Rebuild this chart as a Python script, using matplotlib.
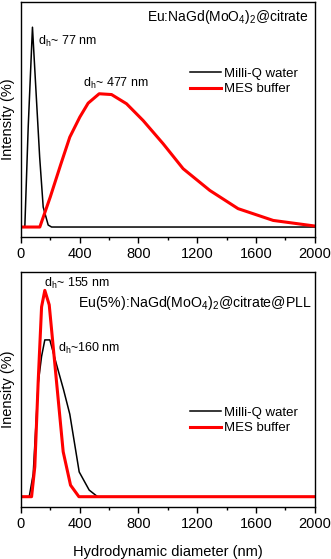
import matplotlib
matplotlib.use('Agg')
import matplotlib.pyplot as plt
from matplotlib.ticker import MultipleLocator, NullLocator

plt.rcParams['font.family'] = ['Liberation Sans', 'DejaVu Sans']
plt.rcParams['mathtext.fontset'] = 'custom'
plt.rcParams['mathtext.rm'] = 'Liberation Sans'
plt.rcParams['mathtext.it'] = 'Liberation Sans'

# top panel: Eu:NaGd(MoO4)2@citrate
top_water_x = [0, 27, 50, 79, 100, 128, 152, 186, 209, 2000]
top_water_y = [0, 0, 0.5, 1.0, 0.72, 0.35, 0.1, 0.01, 0, 0]
top_mes_x = [0, 129, 200, 270, 333, 401, 458, 533, 617, 719, 832, 968, 1104, 1286, 1478, 1717, 2000]
top_mes_y = [0, 0, 0.15, 0.31, 0.45, 0.55, 0.62, 0.667, 0.663, 0.617, 0.533, 0.417, 0.292, 0.183, 0.092, 0.033, 0.005]

# bottom panel: Eu(5%):NaGd(MoO4)2@citrate@PLL
bot_water_x = [0, 57, 84, 118, 141, 163, 197, 243, 290, 333, 397, 465, 522, 2000]
bot_water_y = [0, 0, 0.11, 0.55, 0.68, 0.76, 0.76, 0.64, 0.52, 0.40, 0.12, 0.032, 0, 0]
bot_mes_x = [0, 73, 95, 118, 141, 163, 193, 231, 288, 338, 395, 2000]
bot_mes_y = [0, 0, 0.145, 0.56, 0.92, 1.0, 0.93, 0.645, 0.218, 0.056, 0, 0]

xticks = [0, 400, 800, 1200, 1600, 2000]

fig = plt.figure(figsize=(3.31, 5.59), dpi=100)
ax1 = fig.add_axes([0.063, 0.576, 0.888, 0.42])
ax2 = fig.add_axes([0.063, 0.093, 0.888, 0.42])

for ax, wx, wy, mx, my, ylab, top, leg_y in [
        (ax1, top_water_x, top_water_y, top_mes_x, top_mes_y, 'Intensity (%)', 1.125, 0.745),
        (ax2, bot_water_x, bot_water_y, bot_mes_x, bot_mes_y, 'Inensity (%)', 1.088, 0.45)]:
    ax.plot(wx, wy, color='black', lw=1.1, label='Milli-Q water')
    ax.plot(mx, my, color='#ff0000', lw=2.2, label='MES buffer')
    ax.set_xlim(0, 2000)
    ax.set_ylim(-0.05, top)
    ax.set_xticks(xticks)
    ax.xaxis.set_minor_locator(MultipleLocator(200))
    ax.yaxis.set_major_locator(NullLocator())
    ax.tick_params(axis='x', which='major', length=4, width=1, labelsize=10.5, pad=3)
    ax.tick_params(axis='x', which='minor', length=2.5, width=1)
    ax.set_ylabel(ylab, fontsize=10.5, labelpad=4)
    for s in ax.spines.values():
        s.set_linewidth(1)
    ax.legend(loc='upper right', bbox_to_anchor=(0.96, leg_y),
              frameon=False, fontsize=9.5, handlelength=2.4, handletextpad=0.2,
              labelspacing=0.25, borderaxespad=0)

ax1.text(0.98, 0.975, r'Eu:NaGd(MoO$_4$)$_2$@citrate', transform=ax1.transAxes,
         ha='right', va='top', fontsize=10)
ax1.text(120, 0.93, r'd$_h$~ 77 nm', fontsize=9, va='center')
ax1.text(420, 0.72, r'd$_h$~ 477 nm', fontsize=9, va='center')

ax2.text(0.99, 0.87, r'Eu(5%):NaGd(MoO$_4$)$_2$@citrate@PLL', transform=ax2.transAxes,
         ha='right', va='center', fontsize=10.2)
ax2.text(160, 1.035, r'd$_h$~ 155 nm', fontsize=9, va='center')
ax2.text(255, 0.72, r'd$_h$~160 nm', fontsize=9, va='center')
ax2.set_xlabel('Hydrodynamic diameter (nm)', fontsize=10.5, labelpad=10)

plt.savefig('out.png', dpi=100)
